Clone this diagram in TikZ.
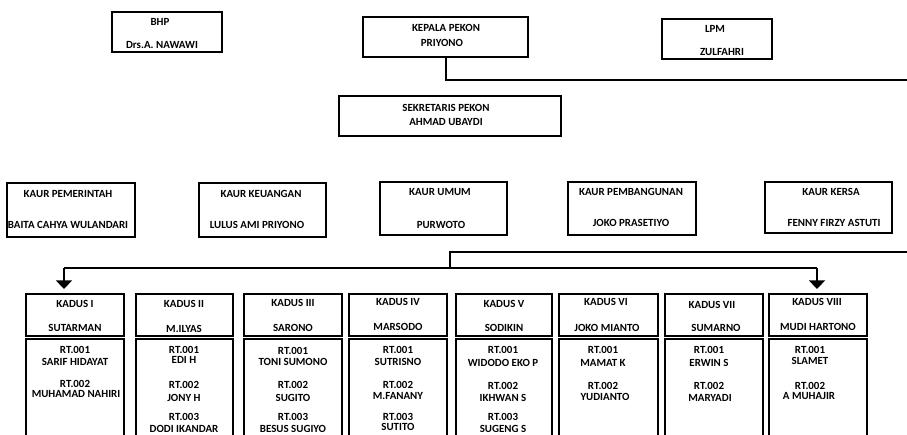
\documentclass[tikz,border=0pt]{standalone}
\usepackage{fontspec}
\setmainfont{Carlito}
\usetikzlibrary{fit,arrows.meta}
\tikzset{
  box/.style={draw, line width=1.5pt, inner sep=0pt},
  txt/.style={inner sep=0pt, font=\bfseries\fontsize{8.2}{9}\selectfont},
  conn/.style={line width=1.5pt},
  arr/.style={line width=1.5pt, -{Triangle[width=12pt,length=6.5pt]}}
}
\begin{document}
\begin{tikzpicture}[x=0.75pt,y=-0.75pt]
\useasboundingbox (0,0) rectangle (907,435);
\clip (0,0) rectangle (907,435);
% top row
\node[box, fit={(112,12) (222,52)}] (bhp) {};
\node[txt] (bhp1) at (160,22) {BHP};
\node[txt] (bhp2) at (162,45) {Drs.A. NAWAWI};
\node[box, fit={(363,17) (528,57)}] (kep) {};
\node[txt] (kep1) at (446,28) {KEPALA PEKON};
\node[txt] (kep2) at (442,43) {PRIYONO};
\node[box, fit={(662,19) (772,59)}] (lpm) {};
\node[txt] (lpm1) at (715,29) {LPM};
\node[txt] (lpm2) at (722,52) {ZULFAHRI};
\node[box, fit={(339,96) (561,136)}] (sek) {};
\node[txt] (sek1) at (446,108) {SEKRETARIS PEKON};
\node[txt] (sek2) at (446,122) {AHMAD UBAYDI};
\coordinate (e1) at (912,80);
\draw[conn] (kep.south) |- (e1);
% kaur row
\node[box, fit={(7,183) (135,237)}] (k1) {};
\node[txt] (k1a) at (68,194) {KAUR PEMERINTAH};
\node[txt] (k1b) at (68,225) {BAITA CAHYA WULANDARI};
\node[box, fit={(199,183) (326,237)}] (k2) {};
\node[txt] (k2a) at (261,194) {KAUR KEUANGAN};
\node[txt] (k2b) at (257,225) {LULUS AMI PRIYONO};
\node[box, fit={(380,182) (507,235)}] (k3) {};
\node[txt] (k3a) at (440,192) {KAUR UMUM};
\node[txt] (k3b) at (441,225) {PURWOTO};
\node[box, fit={(568,182) (696,235)}] (k4) {};
\node[txt] (k4a) at (631,192) {KAUR PEMBANGUNAN};
\node[txt] (k4b) at (631,223) {JOKO PRASETIYO};
\node[box, fit={(765,182) (892,233)}] (k5) {};
\node[txt] (k5a) at (831,192) {KAUR KERSA};
\node[txt] (k5b) at (834,223) {FENNY FIRZY ASTUTI};
% connectors to kadus
\coordinate (e2) at (912,252);
\coordinate (j) at (450,268);
\coordinate (a1) at (64,268);
\coordinate (a8) at (817,268);
\coordinate (t1) at (64,289);
\coordinate (t8) at (817,289);
\draw[conn] (e2) -| (j);
\draw[conn] (a1) -- (a8);
\draw[arr] (a1) -- (t1);
\draw[arr] (a8) -- (t8);
% kadus boxes
\foreach \n/\l/\r in {1/26/124,2/136/233,3/244/342,4/349/447,5/456/552,6/559/658,7/665/763,8/769/867}{
  \node[box, fit={(\l,294) (\r,336)}] (d\n) {};
  \node[box, fit={(\l,339) (\r,450)}] (r\n) {};
}
\node[txt] (d1a) at (75,304) {KADUS I};
\node[txt] (d1b) at (75,328) {SUTARMAN};
\node[txt] (d2a) at (184,304) {KADUS II};
\node[txt] (d2b) at (184,329) {M.ILYAS};
\node[txt] (d3a) at (293,303) {KADUS III};
\node[txt] (d3b) at (293,328) {SARONO};
\node[txt] (d4a) at (398,302) {KADUS IV};
\node[txt] (d4b) at (398,327) {MARSODO};
\node[txt] (d5a) at (504,304) {KADUS V};
\node[txt] (d5b) at (504,328) {SODIKIN};
\node[txt] (d6a) at (606,302) {KADUS VI};
\node[txt] (d6b) at (607,328) {JOKO MIANTO};
\node[txt] (d7a) at (712,305) {KADUS VII};
\node[txt] (d7b) at (716,328) {SUMARNO};
\node[txt] (d8a) at (817,302) {KADUS VIII};
\node[txt] (d8b) at (818,327) {MUDI HARTONO};
% RT texts
\node[txt] (r1a) at (75,350) {RT.001};
\node[txt] (r1b) at (75,362) {SARIF HIDAYAT};
\node[txt] (r1c) at (75,384) {RT.002};
\node[txt] (r1d) at (76,394) {MUHAMAD NAHIRI};
\node[txt] (r2a) at (184,350) {RT.001};
\node[txt] (r2b) at (184,360) {EDI H};
\node[txt] (r2c) at (184,385) {RT.002};
\node[txt] (r2d) at (184,398) {JONY H};
\node[txt] (r2e) at (184,417) {RT.003};
\node[txt] (r2f) at (184,429) {DODI IKANDAR};
\node[txt] (r3a) at (293,351) {RT.001};
\node[txt] (r3b) at (293,362) {TONI SUMONO};
\node[txt] (r3c) at (293,385) {RT.002};
\node[txt] (r3d) at (293,398) {SUGITO};
\node[txt] (r3e) at (293,417) {RT.003};
\node[txt] (r3f) at (293,429) {BESUS SUGIYO};
\node[txt] (r4a) at (398,350) {RT.001};
\node[txt] (r4b) at (398,362) {SUTRISNO};
\node[txt] (r4c) at (398,385) {RT.002};
\node[txt] (r4d) at (398,396) {M.FANANY};
\node[txt] (r4e) at (398,417) {RT.003};
\node[txt] (r4f) at (398,427) {SUTITO};
\node[txt] (r5a) at (503,350) {RT.001};
\node[txt] (r5b) at (503,363) {WIDODO EKO P};
\node[txt] (r5c) at (503,386) {RT.002};
\node[txt] (r5d) at (503,398) {IKHWAN S};
\node[txt] (r5e) at (503,417) {RT.003};
\node[txt] (r5f) at (503,429) {SUGENG S};
\node[txt] (r6a) at (603,350) {RT.001};
\node[txt] (r6b) at (603,363) {MAMAT K};
\node[txt] (r6c) at (603,386) {RT.002};
\node[txt] (r6d) at (605,397) {YUDIANTO};
\node[txt] (r7a) at (709,350) {RT.001};
\node[txt] (r7b) at (709,363) {ERWIN S};
\node[txt] (r7c) at (709,386) {RT.002};
\node[txt] (r7d) at (710,398) {MARYADI};
\node[txt] (r8a) at (810,350) {RT.001};
\node[txt] (r8b) at (810,361) {SLAMET};
\node[txt] (r8c) at (810,386) {RT.002};
\node[txt] (r8d) at (809,396) {A MUHAJIR};
\end{tikzpicture}
\end{document}
